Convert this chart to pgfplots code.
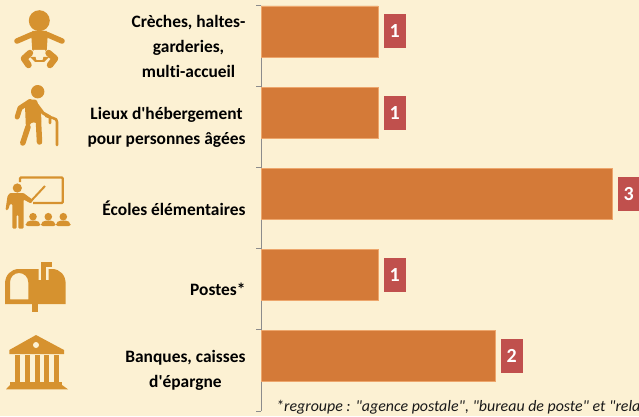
\documentclass[border=0pt]{standalone}
\usepackage{pgfplots}
\pgfplotsset{compat=1.18}
\usepackage{fontspec}
\setmainfont[Ligatures={TeXOff,NoCommon}]{Carlito}
\definecolor{bg}{HTML}{FCF1D3}
\definecolor{barc}{HTML}{D47A38}
\definecolor{barl}{HTML}{EDA66C}
\definecolor{icon}{HTML}{D6922F}
\definecolor{boxc}{HTML}{C0504D}
\definecolor{axc}{HTML}{8C8C8C}
\begin{document}
\begin{tikzpicture}[x=1pt,y=1pt]
\useasboundingbox (0,0) rectangle (639,416);
\clip (0,0) rectangle (639,416);
\fill[bg] (0,0) rectangle (639,416);
\begin{axis}[
  at={(261pt,5pt)},anchor=south west,scale only axis,
  width=378pt,height=405.5pt,
  xmin=0,xmax=3.2308,ymin=0,ymax=5,y dir=reverse,
  axis y line=left,axis x line=none,
  axis line style={axc,line width=1pt,-},
  y axis line style={-},
  ytick={0.5,1.5,2.5,3.5,4.5},
  yticklabels={{Crèches, haltes-\\garderies,\\multi-accueil},{Lieux d'hébergement\\pour personnes âgées},{Écoles élémentaires},{Postes*},{Banques, caisses\\d'épargne}},
  minor ytick={0,1,2,3,4,5},
  major tick length=0pt,
  minor tick length=5pt,
  minor tick style={axc,line width=1pt},
  tick align=outside,
  yticklabel style={align=center,font=\fontsize{17.4}{25}\selectfont\bfseries,text=black,xshift=-12pt},
  clip=false,
  xbar,bar width=51pt,
  nodes near coords,
  nodes near coords style={fill=boxc,text=white,font=\fontsize{20}{22}\selectfont\bfseries,
    anchor=west,xshift=5.5pt,minimum width=22pt,minimum height=34pt,inner sep=0pt,
    /pgf/number format/assume math mode=true},
]
\addplot[fill=barc,draw=barl,line width=0.5pt] table {
x y
1 0.32
1 1.32
3 2.32
1 3.32
2 4.32
};
\end{axis}
\node[anchor=base west,font=\fontsize{15.9}{16}\selectfont\itshape,text=black!90,inner sep=0pt] at (276,5) {*regroupe : "agence postale", "bureau de poste" et "relais poste"};
\begin{scope}[yshift=416pt,y=-1pt,x=1pt]
% baby
\fill[icon] (39.3,20.7) circle (10.5);
\draw[line width=5.5pt,line cap=round,icon] (17,41) -- (32,34.5);
\draw[line width=5.5pt,line cap=round,icon] (62,41) -- (47,34.5);
\fill[icon,rounded corners=1.5pt] (31,31) -- (48,31) -- (46.7,51) -- (32.3,51) -- cycle;
\draw[line width=6.5pt,line cap=round,line join=round,icon] (30,53) -- (24,58.5) -- (28.5,65);
\draw[line width=6.5pt,line cap=round,line join=round,icon] (48.5,53) -- (55,58.5) -- (50,65);
\fill[icon] (30,57) -- (49,57) -- (44,62) -- (35,62) -- cycle;
\fill[bg] (33.5,50) -- (45,50) -- (42.5,60) -- (36.5,60) -- cycle;
% old man
\fill[icon] (37.7,91.7) circle (6.7);
\fill[icon,rounded corners=1.5pt] (28,99.5) -- (36.5,99.5) -- (41,112) -- (41.5,123) -- (36,123) -- (32,122) -- (26,130) -- (25,106) -- cycle;
\draw[line width=5pt,line cap=round,line join=round,icon] (30,101.5) -- (20,108) -- (17.2,117);
\draw[line width=3.2pt,line cap=round,line join=round,icon] (37,105) -- (43,113) -- (50,117);
\draw[line width=5.5pt,line cap=round,icon] (28,127) -- (22.8,143);
\draw[line width=5.5pt,line cap=round,icon] (38.5,122) -- (39.5,142);
\draw[line width=2.6pt,line cap=round,line join=round,icon] (50,123) -- (50,118) (46,116) -- (53,118) .. controls (56,118.5) and (57,120) .. (57,122) -- (57,145);
% teacher
\draw[line width=2.2pt,rounded corners=1pt,icon] (20,182) -- (20,177.5) -- (62.7,177.5) -- (62.7,203) -- (33,203);
\draw[line width=2pt,icon] (31,201) -- (45,186);
\fill[icon] (17.3,188) circle (4.6);
\fill[icon,rounded corners=1pt] (10,193) -- (23.5,193) -- (33,200) -- (31,203.5) -- (23.5,199.5) -- (23.5,228.5) -- (18.3,228.5) -- (18.3,215) -- (16.5,215) -- (16.5,228.5) -- (12.3,228.5) -- (12.3,204) -- (10,204) -- (8,210) -- (5.5,210) -- (7.5,196) -- cycle;
\foreach \c in {33,48.3,63.3}{
  \fill[icon] (\c,216.7) circle (3.8);
  \fill[icon,rounded corners=2pt] (\c-7.3,226) -- (\c-7.3,223) -- (\c-4,220.5) -- (\c+4,220.5) -- (\c+7.3,223) -- (\c+7.3,226) -- cycle;
}
% mailbox
\fill[icon,even odd rule] (5,304) -- (5,284) .. controls (5,275) and (11,269) .. (19,269) -- (38.5,269) -- (38.5,280) -- (48.5,280) -- (48.5,269) -- (52,269) .. controls (60,269) and (65.7,275) .. (65.7,284) -- (65.7,304) -- cycle
  (10,299.3) -- (10,282.5) .. controls (10,277) and (14,273) .. (19.15,273) .. controls (24,273) and (28.3,277) .. (28.3,282.5) -- (28.3,299.3) -- cycle;
\fill[icon] (40.7,262) rectangle (46,280);
\fill[icon] (40.7,262) rectangle (51.7,267);
\fill[icon] (32,303) rectangle (38,311.7);
% bank
\fill[icon] (36,335) -- (64,350) -- (64,354) -- (9.3,354) -- (9.3,350) -- cycle;
\fill[bg] (36,345) circle (3);
\foreach \c in {17.2,27.2,37.2,46.7,56.5}{\fill[icon] (\c-2.3,355) rectangle (\c+2.3,382);}
\fill[icon] (10,381.5) rectangle (62,385.5);
\fill[icon] (10,385) -- (62,385) -- (68,389.3) -- (6,389.3) -- cycle;
\end{scope}
\end{tikzpicture}
\end{document}
